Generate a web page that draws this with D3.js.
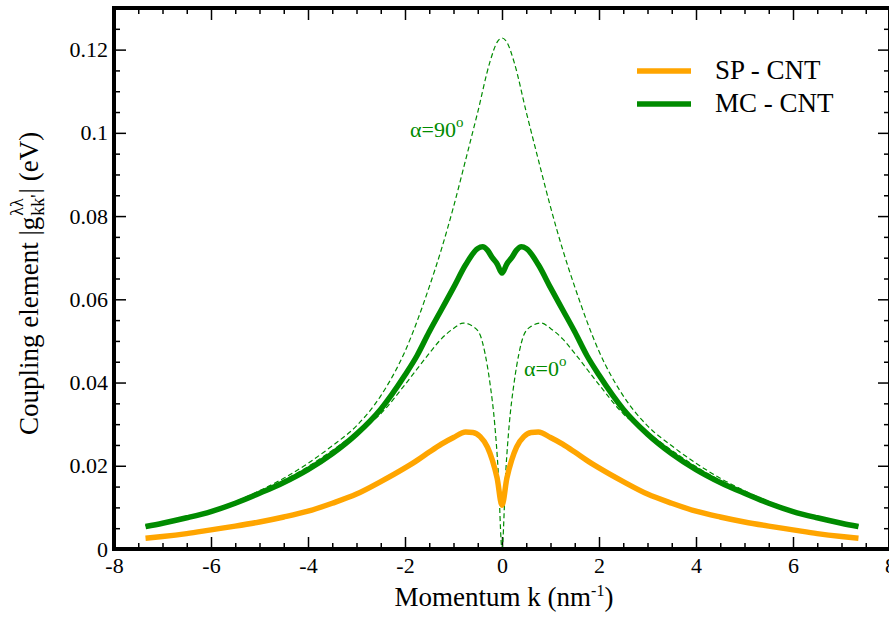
<!DOCTYPE html>
<html lang="en">
<head>
<meta charset="UTF-8">
<title>Coupling element vs momentum</title>
<style>
  body { margin: 0; background: #fff; }
</style>
</head>
<body>
<svg width="889" height="622"></svg>
<script src="https://d3js.org/d3.v7.min.js"></script>
<script>
// momentum grid (nm^-1) and curves
const kSP = [-7.35,-7,-6.5,-6,-5.5,-5,-4.5,-4,-3.5,-3,-2.5,-2,-1.75,-1.5,-1.25,-1,-0.75,-0.6,-0.45,-0.3,-0.2,-0.1,0,
             0.1,0.2,0.3,0.45,0.6,0.75,1,1.25,1.5,1.75,2,2.5,3,3.5,4,4.5,5,5.5,6,6.5,7,7.35];
const sp  = [0.0026,0.0030,0.0037,0.0046,0.0055,0.0065,0.0077,0.0091,0.0110,0.0132,0.0162,0.0195,0.0213,0.0233,0.0252,0.0268,0.0281,0.0280,0.0270,0.0245,0.0214,0.0170,0.0105,
             0.0170,0.0214,0.0245,0.0270,0.0280,0.0281,0.0268,0.0252,0.0233,0.0213,0.0195,0.0162,0.0132,0.0110,0.0091,0.0077,0.0065,0.0055,0.0046,0.0037,0.0030,0.0026];

const kMC = [-7.35,-7,-6.5,-6,-5.5,-5,-4.5,-4,-3.5,-3,-2.5,-2,-1.75,-1.5,-1.25,-1,-0.75,-0.5,-0.4,-0.3,-0.2,-0.1,0,
             0.1,0.2,0.3,0.4,0.5,0.75,1,1.25,1.5,1.75,2,2.5,3,3.5,4,4.5,5,5.5,6,6.5,7,7.35];
const mc  = [0.0054,0.0062,0.0075,0.0090,0.0110,0.0134,0.0160,0.0191,0.0229,0.0276,0.0336,0.0418,0.0465,0.0522,0.0575,0.0628,0.0683,0.0722,0.0726,0.0718,0.0700,0.0685,0.0663,
             0.0685,0.0700,0.0718,0.0726,0.0722,0.0683,0.0628,0.0575,0.0522,0.0465,0.0418,0.0336,0.0276,0.0229,0.0191,0.0160,0.0134,0.0110,0.0090,0.0075,0.0062,0.0054];

const k90 = [-7.35,-7,-6.5,-6,-5.5,-5,-4.5,-4,-3.5,-3,-2.5,-2,-1.5,-1.25,-1,-0.75,-0.5,-0.25,-0.1,0,
             0.1,0.25,0.5,0.75,1,1.25,1.5,2,2.5,3,3.5,4,4.5,5,5.5,6,6.5,7,7.35];
const a90 = [0.0056,0.0064,0.0077,0.0093,0.0114,0.0140,0.0170,0.0206,0.0248,0.0296,0.0368,0.0475,0.0630,0.0720,0.0822,0.0935,0.1050,0.1170,0.1218,0.1228,
             0.1218,0.1170,0.1050,0.0935,0.0822,0.0720,0.0630,0.0475,0.0368,0.0296,0.0248,0.0206,0.0170,0.0140,0.0114,0.0093,0.0077,0.0064,0.0056];

const k0 = [-7.35,-7,-6.5,-6,-5.5,-5,-4.5,-4,-3.5,-3,-2.5,-2,-1.5,-1.25,-1,-0.8,-0.6,-0.45,-0.35,-0.25,-0.15,-0.08,0,
            0.08,0.15,0.25,0.35,0.45,0.6,0.8,1,1.25,1.5,2,2.5,3,3.5,4,4.5,5,5.5,6,6.5,7,7.35];
const a0 = [0.0056,0.0064,0.0076,0.0092,0.0112,0.0137,0.0165,0.0198,0.0237,0.0280,0.0325,0.0395,0.0470,0.0505,0.0530,0.0543,0.0535,0.0514,0.0470,0.0400,0.0300,0.0190,0.0,
            0.0190,0.0300,0.0400,0.0470,0.0514,0.0535,0.0543,0.0530,0.0505,0.0470,0.0395,0.0325,0.0280,0.0237,0.0198,0.0165,0.0137,0.0112,0.0092,0.0076,0.0064,0.0056];

const xMajor = [-8,-6,-4,-2,0,2,4,6,8];
const xMinor = d3.range(-8, 8.01, 0.5).filter(v => v % 2 !== 0);
const yMajor = [0,0.02,0.04,0.06,0.08,0.1,0.12];
const yMinor = d3.range(0, 0.1301, 0.005).filter(v => Math.abs(v / 0.02 - Math.round(v / 0.02)) > 0.01);

const legendNames = ["SP - CNT", "MC - CNT"];
const orange = "#ffa500", green = "#008b00";
const serif = "Liberation Serif";

let svg = d3.select("svg");
let plotLeft = 114, plotRight = 890, plotTop = 8, plotBottom = 549;

let x = d3.scaleLinear().domain([-8, 8]).range([plotLeft, plotRight]);
let y = d3.scaleLinear().domain([0, 0.13]).range([plotBottom, plotTop]);

function axisStyle(g) {
    g.attr("font-family", serif).attr("font-size", 22);
    g.select(".domain").remove();
    g.selectAll("line").attr("stroke", "#000").attr("stroke-width", 1.5);
    g.selectAll("text").attr("fill", "#000");
}

// ticks on all four sides, pointing inwards
svg.append("g").attr("transform", "translate(0," + plotBottom + ")")
    .call(d3.axisBottom(x).tickValues(xMajor).tickSize(-12).tickPadding(8).tickFormat(d => String(d)))
    .call(axisStyle);
svg.append("g").attr("transform", "translate(0," + plotBottom + ")")
    .call(d3.axisBottom(x).tickValues(xMinor).tickSize(-6).tickFormat(""))
    .call(axisStyle);
svg.append("g").attr("transform", "translate(0," + plotTop + ")")
    .call(d3.axisTop(x).tickValues(xMajor).tickSize(-12).tickFormat(""))
    .call(axisStyle);
svg.append("g").attr("transform", "translate(0," + plotTop + ")")
    .call(d3.axisTop(x).tickValues(xMinor).tickSize(-6).tickFormat(""))
    .call(axisStyle);

svg.append("g").attr("transform", "translate(" + plotLeft + ",0)")
    .call(d3.axisLeft(y).tickValues(yMajor).tickSize(-12).tickPadding(6).tickFormat(d => String(d)))
    .call(axisStyle);
svg.append("g").attr("transform", "translate(" + plotLeft + ",0)")
    .call(d3.axisLeft(y).tickValues(yMinor).tickSize(-6).tickFormat(""))
    .call(axisStyle);
svg.append("g").attr("transform", "translate(" + plotRight + ",0)")
    .call(d3.axisRight(y).tickValues(yMajor).tickSize(-12).tickFormat(""))
    .call(axisStyle);
svg.append("g").attr("transform", "translate(" + plotRight + ",0)")
    .call(d3.axisRight(y).tickValues(yMinor).tickSize(-6).tickFormat(""))
    .call(axisStyle);

// curves
function drawCurve(ks, vs, color, width, dash) {
    let line = d3.line()
        .x((d, i) => x(ks[i]))
        .y(d => y(d))
        .curve(d3.curveMonotoneX);
    svg.append("path")
        .datum(vs)
        .attr("d", line)
        .attr("fill", "none")
        .attr("stroke", color)
        .attr("stroke-width", width)
        .attr("stroke-linejoin", "round")
        .attr("stroke-dasharray", dash);
}
drawCurve(k90, a90, green, 1.2, "5,3");
drawCurve(k0, a0, green, 1.2, "5,3");
drawCurve(kSP, sp, orange, 5.5, null);
drawCurve(kMC, mc, green, 5.5, null);

// frame
svg.append("rect")
    .attr("x", plotLeft).attr("y", plotTop)
    .attr("width", plotRight - plotLeft).attr("height", plotBottom - plotTop)
    .attr("fill", "none").attr("stroke", "#000").attr("stroke-width", 4);

// legend
[orange, green].forEach(function(c, i) {
    let ly = 71 + i * 33;
    svg.append("line").attr("x1", 637).attr("x2", 691).attr("y1", ly).attr("y2", ly)
        .attr("stroke", c).attr("stroke-width", 5.5);
    svg.append("text").attr("x", 715).attr("y", ly + 8)
        .attr("font-family", serif).attr("font-size", 27).text(legendNames[i]);
});

// annotations
function angleLabel(tx, ty, deg) {
    let t = svg.append("text").attr("x", tx).attr("y", ty)
        .attr("font-family", serif).attr("font-size", 22).attr("fill", green);
    t.append("tspan").text("α=" + deg);
    t.append("tspan").attr("dy", -10).attr("font-size", 15).text("o");
}
angleLabel(410, 137, "90");
angleLabel(524, 376, "0");

// x axis title
let xt = svg.append("text").attr("x", 504).attr("y", 606)
    .attr("font-family", serif).attr("font-size", 27).attr("text-anchor", "middle");
xt.append("tspan").text("Momentum k (nm");
xt.append("tspan").attr("dy", -10).attr("font-size", 16).text("-1");
xt.append("tspan").attr("dy", 10).text(")");

// y axis title, built piece by piece in a rotated group
let yg = svg.append("g").attr("transform", "translate(38,435) rotate(-90)")
    .attr("font-family", serif);
let p1 = yg.append("text").attr("x", 0).attr("y", 0).attr("font-size", 27).text("Coupling element |g");
let w1 = p1.node().getComputedTextLength();
let sup = yg.append("text").attr("x", w1 + 1).attr("y", -15).attr("font-size", 18).text("λλ");
let sub = yg.append("text").attr("x", w1 + 1).attr("y", 6).attr("font-size", 18).text("kk'");
let w2 = Math.max(sup.node().getComputedTextLength(), sub.node().getComputedTextLength());
yg.append("text").attr("x", w1 + w2 + 2).attr("y", 0).attr("font-size", 27).text("| (eV)");
</script>
</body>
</html>
